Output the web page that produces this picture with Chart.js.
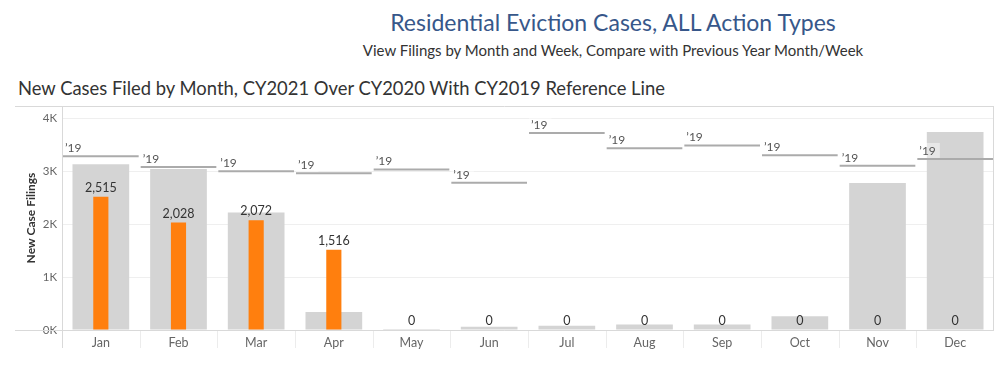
<!DOCTYPE html>
<html>
<head>
<meta charset="utf-8">
<script src="https://cdn.jsdelivr.net/npm/chart.js@4.4.1/dist/chart.umd.min.js"></script>
<style>
  body { margin: 0; background: #fff; width: 1000px; height: 365px; position: relative; overflow: hidden; font-family: Lato, sans-serif; }
  .t { position: absolute; white-space: nowrap; line-height: 1.2; }
  #title { left: 226px; width: 774px; top: 9px; text-align: center; font-size: 23px; color: #37578a; }
  #subtitle { left: 226px; width: 774px; top: 41px; text-align: center; font-size: 15px; color: #333; }
  #chartTitle { left: 18px; top: 77px; font-size: 18.4px; color: #333; }
  #wrap { position: absolute; left: 0; top: 0; width: 1000px; height: 365px; }
</style>
</head>
<body>
<div class="t" id="title">Residential Eviction Cases, ALL Action Types</div>
<div class="t" id="subtitle">View Filings by Month and Week, Compare with Previous Year Month/Week</div>
<div class="t" id="chartTitle">New Cases Filed by Month, CY2021 Over CY2020 With CY2019 Reference Line</div>
<div id="wrap"><canvas id="chart"></canvas></div>
<script>
const months = ['Jan', 'Feb', 'Mar', 'Apr', 'May', 'Jun', 'Jul', 'Aug', 'Sep', 'Oct', 'Nov', 'Dec'];
const cy2020 = [3130, 3040, 2220, 340, 20, 60, 80, 105, 105, 260, 2775, 3740];
const cy2021 = [2515, 2028, 2072, 1516, 0, 0, 0, 0, 0, 0, 0, 0];
const cy2019 = [3280, 3080, 3000, 2960, 3030, 2780, 3720, 3430, 3485, 3300, 3100, 3230];
const yTicks = [0, 1000, 2000, 3000, 4000];
const refLabel = '\u201919';
const yTitle = 'New Case Filings';

Chart.defaults.font.family = 'Lato, sans-serif';

// frame, CY2019 reference lines, value labels, axis title
const overlay = {
    id: 'overlay',
    afterDatasetsDraw(chart) {
        const { ctx, chartArea: a, scales: { x, y } } = chart;
        const step = x.width / months.length;
        ctx.save();

        // frame lines
        ctx.strokeStyle = '#d9d9d9';
        ctx.lineWidth = 1;
        ctx.beginPath();
        ctx.moveTo(15, a.top + 0.5); ctx.lineTo(a.right, a.top + 0.5);
        ctx.moveTo(15, a.bottom + 0.5); ctx.lineTo(a.right, a.bottom + 0.5);
        ctx.moveTo(a.right - 0.5, a.top); ctx.lineTo(a.right - 0.5, a.bottom);
        ctx.moveTo(a.left + 0.5, a.top); ctx.lineTo(a.left + 0.5, a.bottom + 18);
        ctx.stroke();

        // month separators under the axis
        ctx.strokeStyle = '#ececec';
        ctx.beginPath();
        for (let i = 1; i < months.length; i++) {
            const px = Math.round(a.left + step * i) + 0.5;
            ctx.moveTo(px, a.bottom + 1); ctx.lineTo(px, a.bottom + 18);
        }
        ctx.stroke();

        // CY2019 reference lines
        ctx.font = '12px Lato, sans-serif';
        ctx.textBaseline = 'middle';
        ctx.textAlign = 'left';
        cy2019.forEach((v, i) => {
            const cx = x.getPixelForValue(i);
            const py = y.getPixelForValue(v);
            const x0 = cx - step / 2 + 1;
            const x1 = cx + step / 2 - 1;
            const tw = ctx.measureText(refLabel).width;
            ctx.fillStyle = 'rgba(255,255,255,0.45)';
            ctx.fillRect(x0, py - 16, tw + 6, 15);
            ctx.strokeStyle = '#ababab';
            ctx.lineWidth = 2;
            ctx.beginPath();
            ctx.moveTo(x0, py); ctx.lineTo(x1, py);
            ctx.stroke();
            ctx.fillStyle = '#555';
            ctx.fillText(refLabel, x0 + 2, py - 8);
        });

        // CY2021 value labels
        ctx.font = '12.5px Lato, sans-serif';
        ctx.fillStyle = '#333';
        ctx.textAlign = 'center';
        chart.getDatasetMeta(1).data.forEach((bar, i) => {
            ctx.fillText(cy2021[i].toLocaleString('en-US'), bar.x, bar.y - 9);
        });

        // y axis title
        ctx.translate(31, (a.top + a.bottom) / 2);
        ctx.rotate(-Math.PI / 2);
        ctx.font = 'bold 12px Lato, sans-serif';
        ctx.fillStyle = '#333';
        ctx.fillText(yTitle, 0, 0);
        ctx.restore();
    }
};

new Chart(document.getElementById('chart'), {
    type: 'bar',
    data: {
        labels: months,
        datasets: [{
            label: 'CY2020',
            data: cy2020,
            backgroundColor: '#d4d4d4',
            grouped: false,
            categoryPercentage: 1,
            barPercentage: 0.73,
            order: 2
        }, {
            label: 'CY2021',
            data: cy2021,
            backgroundColor: '#ff7f0e',
            grouped: false,
            categoryPercentage: 1,
            barPercentage: 0.195,
            order: 1
        }]
    },
    options: {
        responsive: true,
        maintainAspectRatio: false,
        animation: false,
        layout: { padding: { left: 0, top: 106, right: 6, bottom: 0 } },
        plugins: { legend: { display: false }, tooltip: { enabled: false } },
        scales: {
            x: {
                grid: { display: false, drawTicks: false },
                border: { display: false },
                ticks: { color: '#666', font: { size: 12.5 }, padding: 5 },
                afterFit(s) { s.height = 35; }
            },
            y: {
                min: 0,
                max: 4230,
                afterBuildTicks(s) { s.ticks = yTicks.map(v => ({ value: v })); },
                grid: { color: '#efefef', drawTicks: false },
                border: { display: false },
                ticks: { color: '#666', font: { size: 11.5 }, padding: 5, callback: v => (v / 1000) + 'K' },
                afterFit(s) { s.width = 62; }
            }
        }
    },
    plugins: [overlay]
});
</script>
</body>
</html>
